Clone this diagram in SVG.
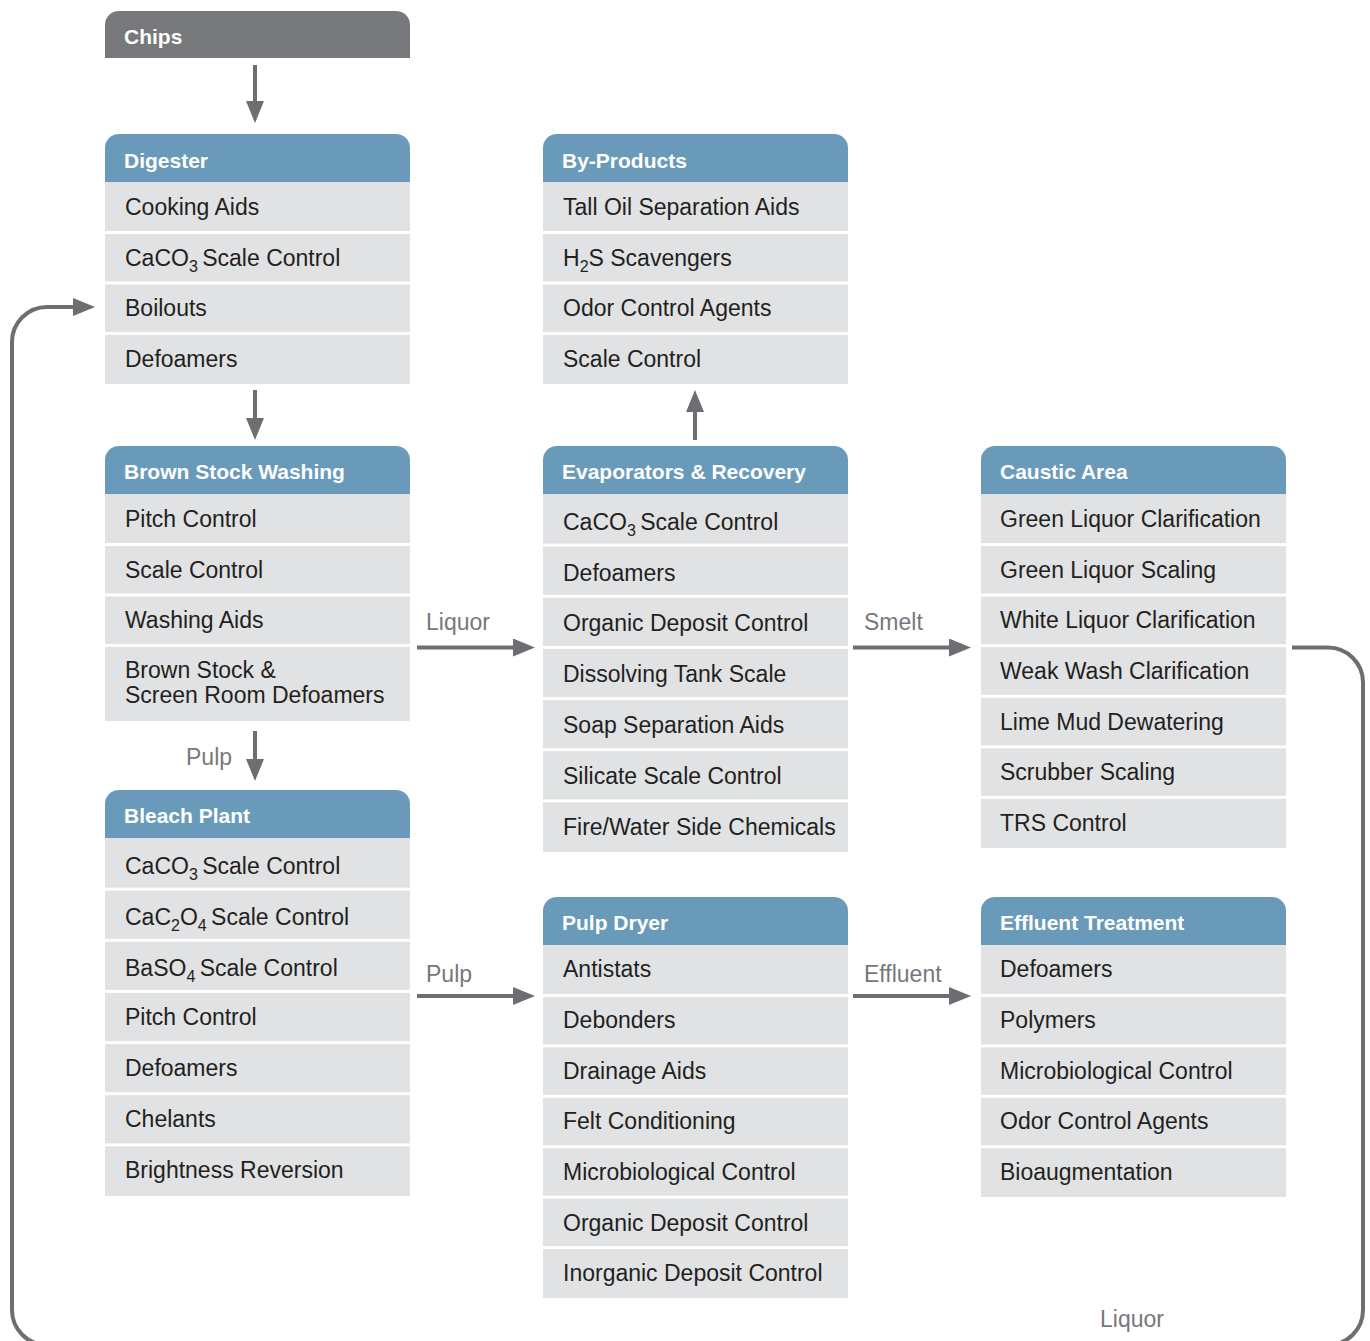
<svg xmlns="http://www.w3.org/2000/svg" width="1370" height="1341" viewBox="0 0 1370 1341">
<style>
.hd{fill:#6a9aba}
.hdg{fill:#77787b}
.bd{fill:#e1e2e4}
.sep{fill:#ffffff}
.ht{font-family:"Liberation Sans",Arial,sans-serif;font-weight:bold;font-size:21px;fill:#ffffff}
.rt{font-family:"Liberation Sans",Arial,sans-serif;font-size:23px;fill:#231f20}
.lb{font-family:"Liberation Sans",Arial,sans-serif;font-size:23px;fill:#77787b}
.ln{stroke:#6d6e71;stroke-width:4;fill:none}
.sub{font-size:16px}
</style>
<defs>
<marker id="ah" markerUnits="userSpaceOnUse" markerWidth="22" markerHeight="18" refX="10" refY="9" orient="auto">
<path d="M0,0 L22,9 L0,18 Z" fill="#6d6e71"/>
</marker>
</defs>
<rect width="1370" height="1341" fill="#ffffff"/>

<g id="chips">
<path class="hdg" d="M105 58 V25 A14 14 0 0 1 119 11 H396 A14 14 0 0 1 410 25 V58 Z"/>
<text class="ht" x="124" y="44">Chips</text>
</g>

<g id="digester">
<path class="hd" d="M105 182 V148 A14 14 0 0 1 119 134 H396 A14 14 0 0 1 410 148 V182 Z"/>
<text class="ht" x="124" y="168">Digester</text>
<rect class="bd" x="105" y="182" width="305" height="202"/>
<rect class="sep" x="105" y="231" width="305" height="3"/>
<rect class="sep" x="105" y="281.5" width="305" height="3"/>
<rect class="sep" x="105" y="332" width="305" height="3"/>
<text class="rt" x="125" y="215">Cooking Aids</text>
<text class="rt" x="125" y="266">CaCO<tspan class="sub" dy="6">3</tspan><tspan dy="-6" dx="-2"> Scale Control</tspan></text>
<text class="rt" x="125" y="316">Boilouts</text>
<text class="rt" x="125" y="367">Defoamers</text>
</g>

<g id="byproducts">
<path class="hd" d="M543 182 V148 A14 14 0 0 1 557 134 H834 A14 14 0 0 1 848 148 V182 Z"/>
<text class="ht" x="562" y="168">By-Products</text>
<rect class="bd" x="543" y="182" width="305" height="202"/>
<rect class="sep" x="543" y="231" width="305" height="3"/>
<rect class="sep" x="543" y="281.5" width="305" height="3"/>
<rect class="sep" x="543" y="332" width="305" height="3"/>
<text class="rt" x="563" y="215">Tall Oil Separation Aids</text>
<text class="rt" x="563" y="266">H<tspan class="sub" dy="6">2</tspan><tspan dy="-6">S Scavengers</tspan></text>
<text class="rt" x="563" y="316">Odor Control Agents</text>
<text class="rt" x="563" y="367">Scale Control</text>
</g>

<g id="brownstock">
<path class="hd" d="M105 494 V460 A14 14 0 0 1 119 446 H396 A14 14 0 0 1 410 460 V494 Z"/>
<text class="ht" x="124" y="479">Brown Stock Washing</text>
<rect class="bd" x="105" y="494" width="305" height="227"/>
<rect class="sep" x="105" y="543" width="305" height="3"/>
<rect class="sep" x="105" y="593.5" width="305" height="3"/>
<rect class="sep" x="105" y="644" width="305" height="3"/>
<text class="rt" x="125" y="527">Pitch Control</text>
<text class="rt" x="125" y="578">Scale Control</text>
<text class="rt" x="125" y="628">Washing Aids</text>
<text class="rt" x="125" y="678">Brown Stock &amp;</text>
<text class="rt" x="125" y="703">Screen Room Defoamers</text>
</g>

<g id="bleach">
<path class="hd" d="M105 838 V804 A14 14 0 0 1 119 790 H396 A14 14 0 0 1 410 804 V838 Z"/>
<text class="ht" x="124" y="823">Bleach Plant</text>
<rect class="bd" x="105" y="838" width="305" height="358"/>
<rect class="sep" x="105" y="887.6" width="305" height="3"/>
<rect class="sep" x="105" y="938.8" width="305" height="3"/>
<rect class="sep" x="105" y="989.9" width="305" height="3"/>
<rect class="sep" x="105" y="1041.1" width="305" height="3"/>
<rect class="sep" x="105" y="1092.2" width="305" height="3"/>
<rect class="sep" x="105" y="1143.4" width="305" height="3"/>
<text class="rt" x="125" y="874">CaCO<tspan class="sub" dy="6">3</tspan><tspan dy="-6" dx="-2"> Scale Control</tspan></text>
<text class="rt" x="125" y="925">CaC<tspan class="sub" dy="6">2</tspan><tspan dy="-6">O</tspan><tspan class="sub" dy="6">4</tspan><tspan dy="-6" dx="-2"> Scale Control</tspan></text>
<text class="rt" x="125" y="976">BaSO<tspan class="sub" dy="6">4</tspan><tspan dy="-6" dx="-2"> Scale Control</tspan></text>
<text class="rt" x="125" y="1025">Pitch Control</text>
<text class="rt" x="125" y="1076">Defoamers</text>
<text class="rt" x="125" y="1127">Chelants</text>
<text class="rt" x="125" y="1178">Brightness Reversion</text>
</g>

<g id="evaporators">
<path class="hd" d="M543 494 V460 A14 14 0 0 1 557 446 H834 A14 14 0 0 1 848 460 V494 Z"/>
<text class="ht" x="562" y="479">Evaporators &amp; Recovery</text>
<rect class="bd" x="543" y="494" width="305" height="358"/>
<rect class="sep" x="543" y="543.6" width="305" height="3"/>
<rect class="sep" x="543" y="594.8" width="305" height="3"/>
<rect class="sep" x="543" y="645.9" width="305" height="3"/>
<rect class="sep" x="543" y="697.1" width="305" height="3"/>
<rect class="sep" x="543" y="748.2" width="305" height="3"/>
<rect class="sep" x="543" y="799.4" width="305" height="3"/>
<text class="rt" x="563" y="530">CaCO<tspan class="sub" dy="6">3</tspan><tspan dy="-6" dx="-2"> Scale Control</tspan></text>
<text class="rt" x="563" y="581">Defoamers</text>
<text class="rt" x="563" y="631">Organic Deposit Control</text>
<text class="rt" x="563" y="682">Dissolving Tank Scale</text>
<text class="rt" x="563" y="733">Soap Separation Aids</text>
<text class="rt" x="563" y="784">Silicate Scale Control</text>
<text class="rt" x="563" y="835">Fire/Water Side Chemicals</text>
</g>

<g id="caustic">
<path class="hd" d="M981 494 V460 A14 14 0 0 1 995 446 H1272 A14 14 0 0 1 1286 460 V494 Z"/>
<text class="ht" x="1000" y="479">Caustic Area</text>
<rect class="bd" x="981" y="494" width="305" height="354"/>
<rect class="sep" x="981" y="543.1" width="305" height="3"/>
<rect class="sep" x="981" y="593.6" width="305" height="3"/>
<rect class="sep" x="981" y="644.2" width="305" height="3"/>
<rect class="sep" x="981" y="694.8" width="305" height="3"/>
<rect class="sep" x="981" y="745.4" width="305" height="3"/>
<rect class="sep" x="981" y="795.9" width="305" height="3"/>
<text class="rt" x="1000" y="527">Green Liquor Clarification</text>
<text class="rt" x="1000" y="578">Green Liquor Scaling</text>
<text class="rt" x="1000" y="628">White Liquor Clarification</text>
<text class="rt" x="1000" y="679">Weak Wash Clarification</text>
<text class="rt" x="1000" y="730">Lime Mud Dewatering</text>
<text class="rt" x="1000" y="780">Scrubber Scaling</text>
<text class="rt" x="1000" y="831">TRS Control</text>
</g>

<g id="pulpdryer">
<path class="hd" d="M543 945 V911 A14 14 0 0 1 557 897 H834 A14 14 0 0 1 848 911 V945 Z"/>
<text class="ht" x="562" y="930">Pulp Dryer</text>
<rect class="bd" x="543" y="945" width="305" height="353"/>
<rect class="sep" x="543" y="993.9" width="305" height="3"/>
<rect class="sep" x="543" y="1044.4" width="305" height="3"/>
<rect class="sep" x="543" y="1094.8" width="305" height="3"/>
<rect class="sep" x="543" y="1145.2" width="305" height="3"/>
<rect class="sep" x="543" y="1195.6" width="305" height="3"/>
<rect class="sep" x="543" y="1246.1" width="305" height="3"/>
<text class="rt" x="563" y="977">Antistats</text>
<text class="rt" x="563" y="1028">Debonders</text>
<text class="rt" x="563" y="1079">Drainage Aids</text>
<text class="rt" x="563" y="1129">Felt Conditioning</text>
<text class="rt" x="563" y="1180">Microbiological Control</text>
<text class="rt" x="563" y="1231">Organic Deposit Control</text>
<text class="rt" x="563" y="1281">Inorganic Deposit Control</text>
</g>

<g id="effluent">
<path class="hd" d="M981 945 V911 A14 14 0 0 1 995 897 H1272 A14 14 0 0 1 1286 911 V945 Z"/>
<text class="ht" x="1000" y="930">Effluent Treatment</text>
<rect class="bd" x="981" y="945" width="305" height="252"/>
<rect class="sep" x="981" y="993.9" width="305" height="3"/>
<rect class="sep" x="981" y="1044.4" width="305" height="3"/>
<rect class="sep" x="981" y="1094.8" width="305" height="3"/>
<rect class="sep" x="981" y="1145.2" width="305" height="3"/>
<text class="rt" x="1000" y="977">Defoamers</text>
<text class="rt" x="1000" y="1028">Polymers</text>
<text class="rt" x="1000" y="1079">Microbiological Control</text>
<text class="rt" x="1000" y="1129">Odor Control Agents</text>
<text class="rt" x="1000" y="1180">Bioaugmentation</text>
</g>

<g id="connectors">
<line class="ln" x1="255" y1="65" x2="255" y2="111" marker-end="url(#ah)"/>
<line class="ln" x1="255" y1="390" x2="255" y2="428" marker-end="url(#ah)"/>
<line class="ln" x1="255" y1="731" x2="255" y2="769" marker-end="url(#ah)"/>
<line class="ln" x1="695" y1="440" x2="695" y2="402" marker-end="url(#ah)"/>
<line class="ln" x1="417" y1="647.5" x2="523" y2="647.5" marker-end="url(#ah)"/>
<line class="ln" x1="853" y1="647.5" x2="959" y2="647.5" marker-end="url(#ah)"/>
<line class="ln" x1="417" y1="996" x2="523" y2="996" marker-end="url(#ah)"/>
<line class="ln" x1="853" y1="996" x2="959" y2="996" marker-end="url(#ah)"/>
<path class="ln" d="M1292 647.5 H1328 A35 35 0 0 1 1363 682.5 V1310 A35 35 0 0 1 1328 1345 H47 A35 35 0 0 1 12 1310 V342 A35 35 0 0 1 47 307 H83" marker-end="url(#ah)"/>
<text class="lb" x="186" y="765">Pulp</text>
<text class="lb" x="426" y="630">Liquor</text>
<text class="lb" x="864" y="630">Smelt</text>
<text class="lb" x="426" y="982">Pulp</text>
<text class="lb" x="864" y="982">Effluent</text>
<text class="lb" x="1100" y="1327">Liquor</text>
</g>
</svg>
